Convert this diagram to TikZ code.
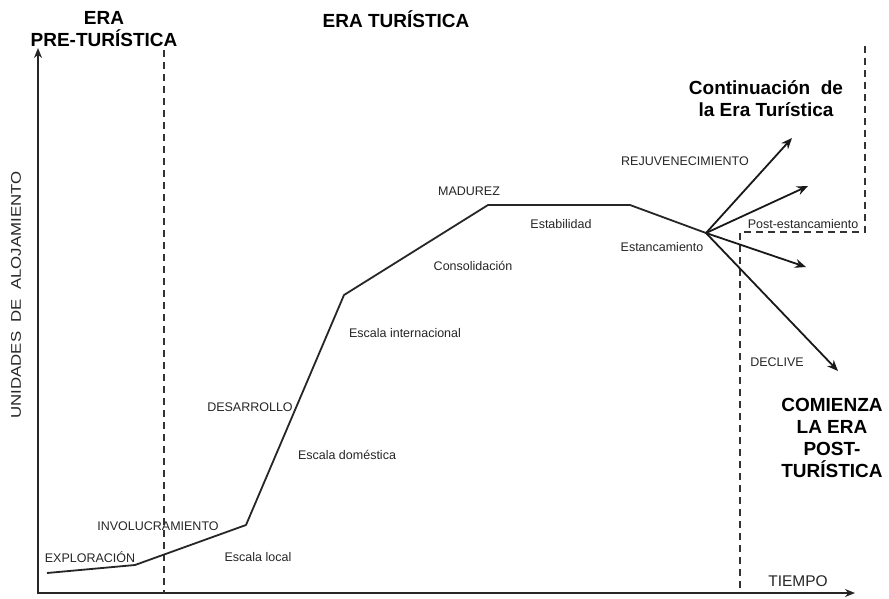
\documentclass[tikz,border=0pt]{standalone}
\usepackage{fontspec}
\setmainfont{Liberation Sans}
\usetikzlibrary{arrows.meta}
\begin{document}
\begin{tikzpicture}[x=1pt,y=-1pt,
  axis/.style={line width=1.8pt, draw=black!85},
  curve/.style={line width=1.8pt, draw=black!85, line join=round},
  branch/.style={line width=1.8pt, draw=black!90, -{Stealth[length=11pt,width=9pt]}},
  era/.style={dash pattern=on 7pt off 5pt, line width=1.4pt, draw=black!80},
  lbl/.style={font=\fontsize{12.5}{14}\selectfont, text=black!85, inner sep=0pt},
  ttl/.style={font=\bfseries\fontsize{19}{22}\selectfont, align=center, inner sep=0pt},
]
\useasboundingbox (0,0) rectangle (889,598);
\fill[white] (0,0) rectangle (889,598);

% axes
\coordinate (O) at (38,593);
\coordinate (Ytop) at (38,48);
\coordinate (Xend) at (855,593);
\draw[axis,{Stealth[length=10pt,width=8pt]}-{Stealth[length=10pt,width=8pt]}] (Ytop) -- (O) -- (Xend);

% era boundaries
\coordinate (d1t) at (164,50);
\coordinate (d1b) at (164,593);
\draw[era] (d1t) -- (d1b);
\coordinate (d2a) at (865,46);
\coordinate (d2b) at (865,232);
\coordinate (d2c) at (740,232);
\coordinate (d2d) at (740,593);
\draw[era] (d2a) -- (d2b) -- (d2c) -- (d2d);

% life cycle curve
\coordinate (p0) at (47,573);
\coordinate (p1) at (135,565);
\coordinate (p2) at (246,525);
\coordinate (p3) at (344,295);
\coordinate (p4) at (488,205);
\coordinate (p5) at (630,205);
\coordinate (s)  at (706,233);
\draw[curve] (p0) -- (p1) -- (p2) -- (p3) -- (p4) -- (p5) -- (s);

% post-stagnation branches
\coordinate (r1) at (792,138);
\coordinate (r2) at (808,186);
\coordinate (r3) at (806,267);
\coordinate (r4) at (838,371);
\draw[branch] (s) -- (r1);
\draw[branch] (s) -- (r2);
\draw[branch] (s) -- (r3);
\draw[branch] (s) -- (r4);

% titles
\node[ttl] (tpre)  at (104,29) {ERA\\PRE-TURÍSTICA};
\node[ttl] (ttur)  at (396,19) {ERA TURÍSTICA};
\node[ttl] (tcont) at (766,99) {Continuación\ \ de\\la Era Turística};
\node[ttl] (tpost) at (832,438) {COMIENZA\\LA ERA\\POST-\\TURÍSTICA};

% stage labels
\node[lbl] (l1)  at (90,557)  {EXPLORACIÓN};
\node[lbl] (l2)  at (158,526) {INVOLUCRAMIENTO};
\node[lbl] (l3)  at (258,557) {Escala local};
\node[lbl] (l4)  at (250,407) {DESARROLLO};
\node[lbl] (l5)  at (347,455) {Escala doméstica};
\node[lbl] (l6)  at (405,333) {Escala internacional};
\node[lbl] (l7)  at (473,266) {Consolidación};
\node[lbl] (l8)  at (469,191) {MADUREZ};
\node[lbl] (l9)  at (561,224) {Estabilidad};
\node[lbl] (l10) at (685,161) {REJUVENECIMIENTO};
\node[lbl] (l11) at (662,247) {Estancamiento};
\node[lbl] (l12) at (803,224) {Post-estancamiento};
\node[lbl] (l13) at (777,362) {DECLIVE};
\node[lbl, font=\fontsize{15.5}{17}\selectfont] (l14) at (798,581) {TIEMPO};
\node[lbl, font=\fontsize{14}{16}\selectfont, rotate=90] (ly) at (16,295) {\scalebox{1.2}[1]{UNIDADES\ \ DE\ \ ALOJAMIENTO}};
\end{tikzpicture}
\end{document}
